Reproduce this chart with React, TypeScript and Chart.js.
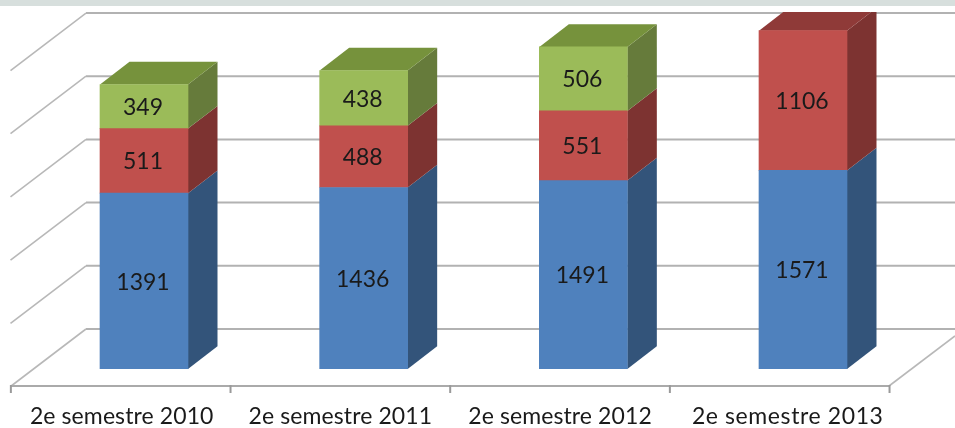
import React, { useEffect, useRef } from "react";
import { Chart, registerables } from "chart.js";

Chart.register(...registerables);

const categories = ["2e semestre 2010", "2e semestre 2011", "2e semestre 2012", "2e semestre 2013"];
const blueValues = [1391, 1436, 1491, 1571];
const redValues = [511, 488, 551, 1106];
const greenValues: (number | null)[] = [349, 438, 506, null];
const seriesNames = ["Série 1", "Série 2", "Série 3"];
const frontColors = ["#4f81bd", "#c0504d", "#9bbb59"];
const sideColors = ["#33547a", "#7d3331", "#667b3b"];
const topColors = ["#3f659a", "#8f3a38", "#76923c"];
const wallTicks = [0, 500, 1000, 1500, 2000, 2500];

const DX = 29.5;
const DY = 22.7;
const WALL_UP = 40;
const AXIS_Y = 386;
const FONT = "23px Lato, Carlito, 'Open Sans', sans-serif";
const labelNudge = [1, 0, 0, 8];
const labelSpacing = ["0.1px", "0.1px", "0.1px", "0.6px"];

const poly = (ctx: CanvasRenderingContext2D, pts: number[][], color: string) => {
  ctx.fillStyle = color;
  ctx.beginPath();
  pts.forEach(([x, y], i) => (i ? ctx.lineTo(x, y) : ctx.moveTo(x, y)));
  ctx.closePath();
  ctx.fill();
};

const line = (ctx: CanvasRenderingContext2D, x1: number, y1: number, x2: number, y2: number) => {
  ctx.beginPath();
  ctx.moveTo(x1, y1);
  ctx.lineTo(x2, y2);
  ctx.stroke();
};

const scene3d = {
  id: "scene3d",
  beforeDatasetsDraw(chart: any) {
    const { ctx, scales } = chart;
    const y = scales.y;
    const x = scales.x;
    ctx.save();
    ctx.fillStyle = "#d7dfdd";
    ctx.fillRect(0, 0, 955, 6);

    // back wall + left wall gridlines
    wallTicks.forEach((v) => {
      const py = y.getPixelForValue(v) - WALL_UP;
      ctx.strokeStyle = "#b2b2b2";
      ctx.lineWidth = 2;
      line(ctx, 86, py, 955, py);
      ctx.strokeStyle = "#b8b8b8";
      ctx.lineWidth = 1.6;
      line(ctx, 86, py, 10.5, py + 57.5);
    });
    // right floor edge
    ctx.strokeStyle = "#b8b8b8";
    ctx.lineWidth = 1.6;
    line(ctx, 889, AXIS_Y, 955, AXIS_Y - 50);

    // front axis
    const off = x.width / categories.length;
    const x0 = x.left - 23.3;
    ctx.strokeStyle = "#aaaaaa";
    ctx.lineWidth = 2;
    line(ctx, x0, AXIS_Y, x0 + off * categories.length, AXIS_Y);
    ctx.strokeStyle = "#9a9a9a";
    for (let i = 0; i <= categories.length; i++) {
      const tx = x0 + off * i;
      line(ctx, tx, AXIS_Y - 1, tx, AXIS_Y + 7);
    }

    // bar sides and tops, clipped like the plot box
    ctx.beginPath();
    ctx.rect(0, 12, 955, 416);
    ctx.clip();
    chart.data.datasets.forEach((ds: any, di: number) => {
      const meta = chart.getDatasetMeta(di);
      meta.data.forEach((bar: any, i: number) => {
        if (ds.data[i] == null) return;
        const { x: cx, y: top, base, width } = bar.getProps(["x", "y", "base", "width"], true);
        const r = cx + width / 2;
        const l = cx - width / 2;
        poly(ctx, [[r, top], [r + DX, top - DY], [r + DX, base - DY], [r, base]], sideColors[di]);
        const isTop = !chart.data.datasets.slice(di + 1).some((d: any) => d.data[i] != null);
        if (isTop) poly(ctx, [[l, top], [l + DX, top - DY], [r + DX, top - DY], [r, top]], topColors[di]);
      });
    });
    ctx.restore();
  },
  afterDatasetsDraw(chart: any) {
    const { ctx, scales } = chart;
    ctx.save();
    ctx.font = FONT;
    ctx.fillStyle = "#1a1a1a";
    ctx.textAlign = "center";
    ctx.textBaseline = "middle";
    chart.data.datasets.forEach((ds: any, di: number) => {
      chart.getDatasetMeta(di).data.forEach((bar: any, i: number) => {
        if (ds.data[i] == null) return;
        const { x: cx, y: top, base } = bar.getProps(["x", "y", "base"], true);
        ctx.fillText(String(ds.data[i]), cx - 1, (top + base) / 2 + 1);
      });
    });
    categories.forEach((c, i) => {
      (ctx as any).letterSpacing = labelSpacing[i];
      const px = scales.x.getPixelForValue(i) - 23.3 + labelNudge[i];
      ctx.fillText(c, px, 417);
    });
    ctx.restore();
  },
};

export default function App() {
  const ref = useRef<HTMLCanvasElement>(null);
  useEffect(() => {
    const chart = new Chart(ref.current!, {
      type: "bar",
      data: {
        labels: categories,
        datasets: [
          { label: seriesNames[0], data: blueValues, backgroundColor: frontColors[0] },
          { label: seriesNames[1], data: redValues, backgroundColor: frontColors[1] },
          { label: seriesNames[2], data: greenValues, backgroundColor: frontColors[2] },
        ],
      },
      options: {
        responsive: false,
        animation: false,
        layout: { padding: { left: 34.17, right: 42.17, top: 15.1, bottom: 59 } },
        plugins: { legend: { display: false }, tooltip: { enabled: false } },
        datasets: { bar: { barThickness: 88 } },
        scales: {
          x: { stacked: true, display: false },
          y: { stacked: true, display: false, min: 0, max: 2800, ticks: { stepSize: 500 } },
        },
      },
      plugins: [scene3d],
    });
    return () => chart.destroy();
  }, []);
  return (
    <div style={{ position: "fixed", left: 0, top: 0, width: 955, height: 428, background: "#fff" }}>
      <canvas ref={ref} width={955} height={428} style={{ display: "block" }} />
    </div>
  );
}
